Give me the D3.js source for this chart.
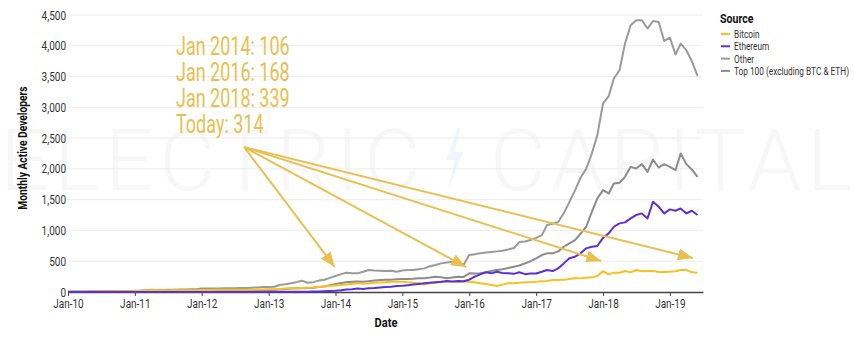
<!DOCTYPE html>
<html>
<head>
<meta charset="utf-8">
<script src="https://d3js.org/d3.v7.min.js"></script>
<style>
  body { margin: 0; background: #fff; }
  text { font-family: Roboto, 'Noto Sans', sans-serif; }
</style>
</head>
<body>
<svg id="chart" width="854" height="352"></svg>
<script>
// monthly values, Jan 2010 .. Jun 2019
const startMonth = new Date(2010, 0, 1);

const bitcoin = [
  2,3,4,5,6,7,8,9,10,11,12,14,
  16,18,25,30,28,27,26,28,30,29,28,30,
  32,34,33,35,36,35,36,38,37,38,40,42,
  44,46,50,55,60,62,65,70,75,80,90,100,
  106,114,120,130,141,135,140,150,155,160,167,165,
  167,160,150,141,120,141,150,160,167,165,160,165,
  168,160,141,130,114,97,120,141,141,150,157,160,
  167,175,180,195,195,200,210,222,225,232,238,260,
  339,287,314,314,341,319,357,336,341,341,325,325,
  330,336,357,357,320,314
];
const ethereum = [
  0,0,0,0,0,0,0,0,0,0,0,0,
  0,0,0,0,0,0,0,0,0,0,0,0,
  1,1,1,1,1,1,2,2,2,2,2,2,
  3,3,4,4,5,5,6,6,8,10,12,15,
  20,28,40,45,55,50,60,65,75,80,85,97,
  100,110,120,130,141,150,160,167,178,170,178,175,
  200,249,287,320,303,330,310,303,295,320,290,300,
  300,330,357,340,384,465,547,573,628,709,735,747,
  880,952,1060,1115,1131,1196,1250,1277,1196,1466,1385,1277,
  1342,1320,1358,1277,1320,1250
];
const other = [
  8,9,10,10,11,12,12,13,14,15,16,18,
  20,24,30,36,32,34,36,38,40,42,44,46,
  55,58,56,58,60,62,62,64,66,70,75,82,
  80,85,114,125,141,160,184,151,160,185,200,230,
  260,290,314,305,303,330,357,350,346,340,346,330,
  350,357,357,370,384,420,438,465,480,492,465,440,
  600,615,628,640,650,660,670,690,714,811,820,844,
  880,925,1087,1110,1136,1282,1460,1650,1860,2000,2250,2548,
  3062,3181,3468,3603,4036,4333,4415,4415,4280,4403,4387,4079,
  4133,3858,4036,3928,3750,3511
];
const top100 = [
  3,4,5,5,6,6,7,7,8,8,9,10,
  10,11,12,13,14,15,16,17,18,19,20,21,
  22,23,24,25,26,27,28,29,30,31,32,33,
  35,38,45,50,55,60,62,65,70,80,90,110,
  130,145,160,167,170,167,175,185,195,200,200,206,
  210,212,215,222,225,235,249,240,222,235,249,245,
  303,300,303,320,340,357,370,390,411,430,465,500,
  547,600,628,628,660,735,790,844,950,1060,1300,1520,
  1655,1601,1763,1774,1871,2033,2006,2077,1952,2153,2023,2077,
  2033,1980,2250,2077,1991,1871
];

const seriesNames = ["Bitcoin", "Ethereum", "Other", "Top 100 (excluding BTC & ETH)"];
const seriesColors = ["#f7c21e", "#5b30d6", "#9a9a9a", "#8c8c8c"];
const yTicks = [0, 500, 1000, 1500, 2000, 2500, 3000, 3500, 4000, 4500];

// annotation
const noteLines = ["Jan 2014: 106", "Jan 2016: 168", "Jan 2018: 339", "Today: 314"];
const arrowFrom = [new Date(2012, 7, 20), 2353];
const arrowTo = [
  [new Date(2013, 11, 28), 406],
  [new Date(2015, 11, 15), 406],
  [new Date(2017, 11, 22), 503],
  [new Date(2019, 4, 7), 552]
];

const svg = d3.select("#chart");
const margin = {left: 68, right: 151, top: 15, bottom: 60};
const W = 854, H = 352;

const x = d3.scaleTime()
  .domain([startMonth, new Date(2019, 6, 1)])
  .range([margin.left, W - margin.right]);
const y = d3.scaleLinear().domain([0, 4500]).range([H - margin.bottom, margin.top]);

// watermark
const wm = svg.append("g").attr("fill", "#f7f7f7")
  .style("font-weight", 300).style("font-size", "86px");
wm.append("text").attr("x", 0).attr("y", 190).attr("textLength", 420)
  .attr("lengthAdjust", "spacing").text("ELECTRIC");
wm.append("text").attr("x", 490).attr("y", 190).attr("textLength", 362)
  .attr("lengthAdjust", "spacing").text("CAPITAL");
svg.append("path").attr("d", "M458,128 L446,160 L455,160 L448,190 L463,152 L454,152 L461,128 Z")
  .attr("fill", "#f0f5fb");

// grid
svg.append("g").selectAll("line").data(yTicks.slice(1)).join("line")
  .attr("x1", margin.left).attr("x2", W - margin.right)
  .attr("y1", d => y(d)).attr("y2", d => y(d))
  .attr("stroke", "#ececec").attr("stroke-width", 1);

// y axis labels
const yAxis = svg.append("g").attr("transform", `translate(${margin.left - 2},0)`)
  .call(d3.axisLeft(y).tickValues(yTicks).tickFormat(d3.format(",")).tickSize(0).tickPadding(0));
yAxis.select(".domain").remove();
yAxis.selectAll("text").attr("fill", "#333").style("font-size", "12.5px")
  .attr("transform", "scale(0.8,1)");

// x axis
const xAxis = svg.append("g").attr("transform", `translate(0,${y(0)})`)
  .call(d3.axisBottom(x).ticks(d3.timeYear.every(1)).tickFormat(d3.timeFormat("%b-%y")).tickSize(4).tickSizeOuter(0));
xAxis.select(".domain").attr("stroke", "#444").attr("stroke-width", 1.5);
xAxis.selectAll(".tick line").attr("stroke", "#444");
xAxis.selectAll("text").attr("fill", "#333").style("font-size", "12.5px")
  .attr("transform", "scale(0.8,1)");

// lines
const line = d3.line()
  .x((d, i) => x(d3.timeMonth.offset(startMonth, i)))
  .y(d => y(d));
const drawOrder = [2, 3, 0, 1];
const allSeries = [bitcoin, ethereum, other, top100];
drawOrder.forEach(k => {
  svg.append("path").datum(allSeries[k])
    .attr("d", line)
    .attr("fill", "none")
    .attr("stroke", seriesColors[k])
    .attr("stroke-width", 2)
    .attr("stroke-linejoin", "round");
});

// axis titles
svg.append("text").attr("transform", "translate(27,148) rotate(-90) scale(0.82,1)")
  .attr("text-anchor", "middle").style("font-weight", "bold").style("font-size", "12.5px")
  .attr("fill", "#111").text("Monthly Active Developers");
svg.append("text").attr("transform", "translate(386,327) scale(0.85,1)")
  .attr("text-anchor", "middle").style("font-weight", "bold").style("font-size", "13px")
  .attr("fill", "#111").text("Date");

// annotation
const gold = "#e9c04f";
svg.append("defs").append("marker")
  .attr("id", "arrow").attr("markerUnits", "userSpaceOnUse")
  .attr("markerWidth", 16).attr("markerHeight", 12)
  .attr("refX", 15).attr("refY", 6).attr("orient", "auto")
  .append("path").attr("d", "M0,0 L15,6 L0,12 Z").attr("fill", gold);

svg.append("g").selectAll("line").data(arrowTo).join("line")
  .attr("x1", x(arrowFrom[0])).attr("y1", y(arrowFrom[1]))
  .attr("x2", d => x(d[0])).attr("y2", d => y(d[1]))
  .attr("stroke", gold).attr("stroke-width", 2)
  .attr("marker-end", "url(#arrow)");

const note = svg.append("g").attr("transform", "translate(176,0) scale(0.72,1)");
note.selectAll("text").data(noteLines).join("text")
  .attr("x", 0).attr("y", (d, i) => 55 + i * 26)
  .attr("fill", gold).style("font-size", "25px")
  .text(d => d);

// legend
const legend = svg.append("g").attr("transform", "translate(720,0)");
legend.append("text").attr("transform", "translate(0,23) scale(0.85,1)")
  .style("font-weight", "bold").style("font-size", "12.5px").attr("fill", "#111").text("Source");
const items = legend.selectAll("g.item").data(seriesNames).join("g")
  .attr("class", "item")
  .attr("transform", (d, i) => `translate(0,${34 + i * 12.3})`);
items.append("line").attr("x1", 1).attr("x2", 10).attr("y1", 0).attr("y2", 0)
  .attr("stroke", (d, i) => seriesColors[i]).attr("stroke-width", 2);
items.append("text").attr("transform", "translate(14,4) scale(0.72,1)")
  .style("font-size", "11.5px").attr("fill", "#333").text(d => d);
</script>
</body>
</html>
